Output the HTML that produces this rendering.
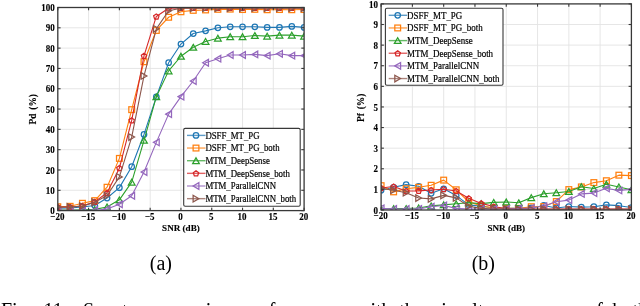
<!DOCTYPE html>
<html><head><meta charset="utf-8"><style>
html,body{margin:0;padding:0;background:#fff;width:640px;height:306px;overflow:hidden}
svg{display:block;filter:blur(0.3px)}
.tk{font-family:"Liberation Serif",serif;font-weight:bold;font-size:9.0px;fill:#000;stroke:#000;stroke-width:0.12px}
.ylab{font-family:"Liberation Serif",serif;font-weight:bold;font-size:9.3px;fill:#000;stroke:#000;stroke-width:0.12px;word-spacing:1.6px}
.lab{font-family:"Liberation Serif",serif;font-weight:bold;font-size:9.1px;fill:#000;stroke:#000;stroke-width:0.12px}
.lg{font-family:"Liberation Serif",serif;font-size:8.8px;fill:#000;stroke:#000;stroke-width:0.18px}
.cap{font-family:"Liberation Serif",serif;font-size:20px;fill:#000}
.fig{font-family:"Liberation Serif",serif;font-size:20px;fill:#000}
</style></head><body>
<svg width="640" height="306" viewBox="0 0 640 306">
<rect width="640" height="306" fill="#fff"/>
<line x1="88.59" y1="7.50" x2="88.59" y2="210.60" stroke="#e3e3e3" stroke-width="0.9"/>
<line x1="119.38" y1="7.50" x2="119.38" y2="210.60" stroke="#e3e3e3" stroke-width="0.9"/>
<line x1="150.16" y1="7.50" x2="150.16" y2="210.60" stroke="#e3e3e3" stroke-width="0.9"/>
<line x1="180.95" y1="7.50" x2="180.95" y2="210.60" stroke="#e3e3e3" stroke-width="0.9"/>
<line x1="211.74" y1="7.50" x2="211.74" y2="210.60" stroke="#e3e3e3" stroke-width="0.9"/>
<line x1="242.53" y1="7.50" x2="242.53" y2="210.60" stroke="#e3e3e3" stroke-width="0.9"/>
<line x1="273.31" y1="7.50" x2="273.31" y2="210.60" stroke="#e3e3e3" stroke-width="0.9"/>
<line x1="57.80" y1="190.29" x2="304.10" y2="190.29" stroke="#e3e3e3" stroke-width="0.9"/>
<line x1="57.80" y1="169.98" x2="304.10" y2="169.98" stroke="#e3e3e3" stroke-width="0.9"/>
<line x1="57.80" y1="149.67" x2="304.10" y2="149.67" stroke="#e3e3e3" stroke-width="0.9"/>
<line x1="57.80" y1="129.36" x2="304.10" y2="129.36" stroke="#e3e3e3" stroke-width="0.9"/>
<line x1="57.80" y1="109.05" x2="304.10" y2="109.05" stroke="#e3e3e3" stroke-width="0.9"/>
<line x1="57.80" y1="88.74" x2="304.10" y2="88.74" stroke="#e3e3e3" stroke-width="0.9"/>
<line x1="57.80" y1="68.43" x2="304.10" y2="68.43" stroke="#e3e3e3" stroke-width="0.9"/>
<line x1="57.80" y1="48.12" x2="304.10" y2="48.12" stroke="#e3e3e3" stroke-width="0.9"/>
<line x1="57.80" y1="27.81" x2="304.10" y2="27.81" stroke="#e3e3e3" stroke-width="0.9"/>
<clipPath id="c57"><rect x="57.80" y="7.50" width="246.30" height="203.10"/></clipPath><g clip-path="url(#c57)">
<polyline points="57.80,208.16 70.11,207.96 82.43,206.94 94.75,205.52 107.06,198.01 119.38,187.65 131.69,166.73 144.00,134.44 156.32,96.86 168.63,62.74 180.95,44.06 193.26,33.50 205.58,30.86 217.89,27.81 230.21,26.79 242.53,26.79 254.84,26.79 267.16,27.40 279.47,27.40 291.79,26.39 304.10,27.40" fill="none" stroke="#1f77b4" stroke-width="1.1" stroke-linejoin="round"/>
<circle cx="57.80" cy="208.16" r="2.75" fill="none" stroke="#1f77b4" stroke-width="1.25"/>
<circle cx="70.11" cy="207.96" r="2.75" fill="none" stroke="#1f77b4" stroke-width="1.25"/>
<circle cx="82.43" cy="206.94" r="2.75" fill="none" stroke="#1f77b4" stroke-width="1.25"/>
<circle cx="94.75" cy="205.52" r="2.75" fill="none" stroke="#1f77b4" stroke-width="1.25"/>
<circle cx="107.06" cy="198.01" r="2.75" fill="none" stroke="#1f77b4" stroke-width="1.25"/>
<circle cx="119.38" cy="187.65" r="2.75" fill="none" stroke="#1f77b4" stroke-width="1.25"/>
<circle cx="131.69" cy="166.73" r="2.75" fill="none" stroke="#1f77b4" stroke-width="1.25"/>
<circle cx="144.00" cy="134.44" r="2.75" fill="none" stroke="#1f77b4" stroke-width="1.25"/>
<circle cx="156.32" cy="96.86" r="2.75" fill="none" stroke="#1f77b4" stroke-width="1.25"/>
<circle cx="168.63" cy="62.74" r="2.75" fill="none" stroke="#1f77b4" stroke-width="1.25"/>
<circle cx="180.95" cy="44.06" r="2.75" fill="none" stroke="#1f77b4" stroke-width="1.25"/>
<circle cx="193.26" cy="33.50" r="2.75" fill="none" stroke="#1f77b4" stroke-width="1.25"/>
<circle cx="205.58" cy="30.86" r="2.75" fill="none" stroke="#1f77b4" stroke-width="1.25"/>
<circle cx="217.89" cy="27.81" r="2.75" fill="none" stroke="#1f77b4" stroke-width="1.25"/>
<circle cx="230.21" cy="26.79" r="2.75" fill="none" stroke="#1f77b4" stroke-width="1.25"/>
<circle cx="242.53" cy="26.79" r="2.75" fill="none" stroke="#1f77b4" stroke-width="1.25"/>
<circle cx="254.84" cy="26.79" r="2.75" fill="none" stroke="#1f77b4" stroke-width="1.25"/>
<circle cx="267.16" cy="27.40" r="2.75" fill="none" stroke="#1f77b4" stroke-width="1.25"/>
<circle cx="279.47" cy="27.40" r="2.75" fill="none" stroke="#1f77b4" stroke-width="1.25"/>
<circle cx="291.79" cy="26.39" r="2.75" fill="none" stroke="#1f77b4" stroke-width="1.25"/>
<circle cx="304.10" cy="27.40" r="2.75" fill="none" stroke="#1f77b4" stroke-width="1.25"/>
<polyline points="57.80,206.74 70.11,206.33 82.43,203.29 94.75,200.65 107.06,187.24 119.38,158.40 131.69,109.66 144.00,61.73 156.32,30.45 168.63,17.25 180.95,11.77 193.26,10.34 205.58,9.94 217.89,9.33 230.21,9.12 242.53,9.53 254.84,9.33 267.16,9.73 279.47,9.53 291.79,9.73 304.10,9.53" fill="none" stroke="#ff7f0e" stroke-width="1.1" stroke-linejoin="round"/>
<rect x="54.92" y="203.86" width="5.76" height="5.76" fill="none" stroke="#ff7f0e" stroke-width="1.25"/>
<rect x="67.23" y="203.45" width="5.76" height="5.76" fill="none" stroke="#ff7f0e" stroke-width="1.25"/>
<rect x="79.55" y="200.41" width="5.76" height="5.76" fill="none" stroke="#ff7f0e" stroke-width="1.25"/>
<rect x="91.87" y="197.77" width="5.76" height="5.76" fill="none" stroke="#ff7f0e" stroke-width="1.25"/>
<rect x="104.18" y="184.36" width="5.76" height="5.76" fill="none" stroke="#ff7f0e" stroke-width="1.25"/>
<rect x="116.50" y="155.52" width="5.76" height="5.76" fill="none" stroke="#ff7f0e" stroke-width="1.25"/>
<rect x="128.81" y="106.78" width="5.76" height="5.76" fill="none" stroke="#ff7f0e" stroke-width="1.25"/>
<rect x="141.12" y="58.85" width="5.76" height="5.76" fill="none" stroke="#ff7f0e" stroke-width="1.25"/>
<rect x="153.44" y="27.57" width="5.76" height="5.76" fill="none" stroke="#ff7f0e" stroke-width="1.25"/>
<rect x="165.75" y="14.37" width="5.76" height="5.76" fill="none" stroke="#ff7f0e" stroke-width="1.25"/>
<rect x="178.07" y="8.89" width="5.76" height="5.76" fill="none" stroke="#ff7f0e" stroke-width="1.25"/>
<rect x="190.38" y="7.46" width="5.76" height="5.76" fill="none" stroke="#ff7f0e" stroke-width="1.25"/>
<rect x="202.70" y="7.06" width="5.76" height="5.76" fill="none" stroke="#ff7f0e" stroke-width="1.25"/>
<rect x="215.01" y="6.45" width="5.76" height="5.76" fill="none" stroke="#ff7f0e" stroke-width="1.25"/>
<rect x="227.33" y="6.24" width="5.76" height="5.76" fill="none" stroke="#ff7f0e" stroke-width="1.25"/>
<rect x="239.65" y="6.65" width="5.76" height="5.76" fill="none" stroke="#ff7f0e" stroke-width="1.25"/>
<rect x="251.96" y="6.45" width="5.76" height="5.76" fill="none" stroke="#ff7f0e" stroke-width="1.25"/>
<rect x="264.28" y="6.85" width="5.76" height="5.76" fill="none" stroke="#ff7f0e" stroke-width="1.25"/>
<rect x="276.59" y="6.65" width="5.76" height="5.76" fill="none" stroke="#ff7f0e" stroke-width="1.25"/>
<rect x="288.91" y="6.85" width="5.76" height="5.76" fill="none" stroke="#ff7f0e" stroke-width="1.25"/>
<rect x="301.22" y="6.65" width="5.76" height="5.76" fill="none" stroke="#ff7f0e" stroke-width="1.25"/>
<polyline points="57.80,209.99 70.11,209.99 82.43,209.79 94.75,209.38 107.06,206.94 119.38,199.84 131.69,182.17 144.00,140.33 156.32,96.86 168.63,70.87 180.95,56.24 193.26,47.31 205.58,41.42 217.89,38.17 230.21,36.75 242.53,36.75 254.84,35.53 267.16,36.14 279.47,35.12 291.79,35.12 304.10,36.14" fill="none" stroke="#2ca02c" stroke-width="1.1" stroke-linejoin="round"/>
<polygon points="57.80,207.11 61.13,212.87 54.47,212.87" fill="none" stroke="#2ca02c" stroke-width="1.25"/>
<polygon points="70.11,207.11 73.44,212.87 66.79,212.87" fill="none" stroke="#2ca02c" stroke-width="1.25"/>
<polygon points="82.43,206.91 85.76,212.67 79.10,212.67" fill="none" stroke="#2ca02c" stroke-width="1.25"/>
<polygon points="94.75,206.50 98.07,212.26 91.42,212.26" fill="none" stroke="#2ca02c" stroke-width="1.25"/>
<polygon points="107.06,204.06 110.39,209.82 103.73,209.82" fill="none" stroke="#2ca02c" stroke-width="1.25"/>
<polygon points="119.38,196.96 122.70,202.72 116.05,202.72" fill="none" stroke="#2ca02c" stroke-width="1.25"/>
<polygon points="131.69,179.29 135.02,185.05 128.36,185.05" fill="none" stroke="#2ca02c" stroke-width="1.25"/>
<polygon points="144.00,137.45 147.33,143.21 140.68,143.21" fill="none" stroke="#2ca02c" stroke-width="1.25"/>
<polygon points="156.32,93.98 159.65,99.74 152.99,99.74" fill="none" stroke="#2ca02c" stroke-width="1.25"/>
<polygon points="168.63,67.99 171.96,73.75 165.31,73.75" fill="none" stroke="#2ca02c" stroke-width="1.25"/>
<polygon points="180.95,53.36 184.28,59.12 177.62,59.12" fill="none" stroke="#2ca02c" stroke-width="1.25"/>
<polygon points="193.26,44.43 196.59,50.19 189.94,50.19" fill="none" stroke="#2ca02c" stroke-width="1.25"/>
<polygon points="205.58,38.54 208.91,44.30 202.25,44.30" fill="none" stroke="#2ca02c" stroke-width="1.25"/>
<polygon points="217.89,35.29 221.22,41.05 214.57,41.05" fill="none" stroke="#2ca02c" stroke-width="1.25"/>
<polygon points="230.21,33.87 233.54,39.63 226.88,39.63" fill="none" stroke="#2ca02c" stroke-width="1.25"/>
<polygon points="242.53,33.87 245.85,39.63 239.20,39.63" fill="none" stroke="#2ca02c" stroke-width="1.25"/>
<polygon points="254.84,32.65 258.17,38.41 251.51,38.41" fill="none" stroke="#2ca02c" stroke-width="1.25"/>
<polygon points="267.16,33.26 270.48,39.02 263.83,39.02" fill="none" stroke="#2ca02c" stroke-width="1.25"/>
<polygon points="279.47,32.24 282.80,38.00 276.14,38.00" fill="none" stroke="#2ca02c" stroke-width="1.25"/>
<polygon points="291.79,32.24 295.11,38.00 288.46,38.00" fill="none" stroke="#2ca02c" stroke-width="1.25"/>
<polygon points="304.10,33.26 307.43,39.02 300.77,39.02" fill="none" stroke="#2ca02c" stroke-width="1.25"/>
<polyline points="57.80,206.94 70.11,206.94 82.43,205.93 94.75,201.87 107.06,192.73 119.38,168.15 131.69,120.42 144.00,55.84 156.32,16.44 168.63,8.31 180.95,7.91 193.26,7.91 205.58,7.91 217.89,7.91 230.21,7.91 242.53,7.91 254.84,7.91 267.16,7.91 279.47,7.91 291.79,7.91 304.10,7.91" fill="none" stroke="#d62728" stroke-width="1.1" stroke-linejoin="round"/>
<polygon points="57.80,204.41 60.48,206.36 59.46,209.50 56.14,209.50 55.12,206.36" fill="none" stroke="#d62728" stroke-width="1.25"/>
<polygon points="70.11,204.41 72.79,206.36 71.77,209.50 68.46,209.50 67.44,206.36" fill="none" stroke="#d62728" stroke-width="1.25"/>
<polygon points="82.43,203.39 85.11,205.34 84.09,208.49 80.77,208.49 79.75,205.34" fill="none" stroke="#d62728" stroke-width="1.25"/>
<polygon points="94.75,199.33 97.42,201.28 96.40,204.43 93.09,204.43 92.07,201.28" fill="none" stroke="#d62728" stroke-width="1.25"/>
<polygon points="107.06,190.19 109.74,192.14 108.72,195.29 105.40,195.29 104.38,192.14" fill="none" stroke="#d62728" stroke-width="1.25"/>
<polygon points="119.38,165.62 122.05,167.56 121.03,170.71 117.72,170.71 116.70,167.56" fill="none" stroke="#d62728" stroke-width="1.25"/>
<polygon points="131.69,117.89 134.37,119.84 133.35,122.98 130.03,122.98 129.01,119.84" fill="none" stroke="#d62728" stroke-width="1.25"/>
<polygon points="144.00,53.30 146.68,55.25 145.66,58.40 142.35,58.40 141.33,55.25" fill="none" stroke="#d62728" stroke-width="1.25"/>
<polygon points="156.32,13.90 159.00,15.85 157.98,19.00 154.66,19.00 153.64,15.85" fill="none" stroke="#d62728" stroke-width="1.25"/>
<polygon points="168.63,5.78 171.31,7.72 170.29,10.87 166.98,10.87 165.96,7.72" fill="none" stroke="#d62728" stroke-width="1.25"/>
<polygon points="180.95,5.37 183.63,7.32 182.61,10.47 179.29,10.47 178.27,7.32" fill="none" stroke="#d62728" stroke-width="1.25"/>
<polygon points="193.26,5.37 195.94,7.32 194.92,10.47 191.61,10.47 190.59,7.32" fill="none" stroke="#d62728" stroke-width="1.25"/>
<polygon points="205.58,5.37 208.26,7.32 207.24,10.47 203.92,10.47 202.90,7.32" fill="none" stroke="#d62728" stroke-width="1.25"/>
<polygon points="217.89,5.37 220.57,7.32 219.55,10.47 216.24,10.47 215.22,7.32" fill="none" stroke="#d62728" stroke-width="1.25"/>
<polygon points="230.21,5.37 232.89,7.32 231.87,10.47 228.55,10.47 227.53,7.32" fill="none" stroke="#d62728" stroke-width="1.25"/>
<polygon points="242.53,5.37 245.20,7.32 244.18,10.47 240.87,10.47 239.85,7.32" fill="none" stroke="#d62728" stroke-width="1.25"/>
<polygon points="254.84,5.37 257.52,7.32 256.50,10.47 253.18,10.47 252.16,7.32" fill="none" stroke="#d62728" stroke-width="1.25"/>
<polygon points="267.16,5.37 269.83,7.32 268.81,10.47 265.50,10.47 264.48,7.32" fill="none" stroke="#d62728" stroke-width="1.25"/>
<polygon points="279.47,5.37 282.15,7.32 281.13,10.47 277.81,10.47 276.79,7.32" fill="none" stroke="#d62728" stroke-width="1.25"/>
<polygon points="291.79,5.37 294.46,7.32 293.44,10.47 290.13,10.47 289.11,7.32" fill="none" stroke="#d62728" stroke-width="1.25"/>
<polygon points="304.10,5.37 306.78,7.32 305.76,10.47 302.44,10.47 301.42,7.32" fill="none" stroke="#d62728" stroke-width="1.25"/>
<polyline points="57.80,210.40 70.11,210.40 82.43,210.40 94.75,210.19 107.06,208.98 119.38,204.30 131.69,195.77 144.00,172.01 156.32,142.36 168.63,114.13 180.95,96.66 193.26,81.02 205.58,62.74 217.89,58.68 230.21,55.03 242.53,55.03 254.84,54.42 267.16,55.63 279.47,53.81 291.79,55.63 304.10,55.63" fill="none" stroke="#9467bd" stroke-width="1.1" stroke-linejoin="round"/>
<polygon points="54.92,210.40 60.68,207.07 60.68,213.72" fill="none" stroke="#9467bd" stroke-width="1.25"/>
<polygon points="67.23,210.40 72.99,207.07 72.99,213.72" fill="none" stroke="#9467bd" stroke-width="1.25"/>
<polygon points="79.55,210.40 85.31,207.07 85.31,213.72" fill="none" stroke="#9467bd" stroke-width="1.25"/>
<polygon points="91.86,210.19 97.62,206.87 97.62,213.52" fill="none" stroke="#9467bd" stroke-width="1.25"/>
<polygon points="104.18,208.98 109.94,205.65 109.94,212.30" fill="none" stroke="#9467bd" stroke-width="1.25"/>
<polygon points="116.49,204.30 122.25,200.98 122.25,207.63" fill="none" stroke="#9467bd" stroke-width="1.25"/>
<polygon points="128.81,195.77 134.57,192.45 134.57,199.10" fill="none" stroke="#9467bd" stroke-width="1.25"/>
<polygon points="141.12,172.01 146.88,168.69 146.88,175.34" fill="none" stroke="#9467bd" stroke-width="1.25"/>
<polygon points="153.44,142.36 159.20,139.03 159.20,145.68" fill="none" stroke="#9467bd" stroke-width="1.25"/>
<polygon points="165.75,114.13 171.51,110.80 171.51,117.45" fill="none" stroke="#9467bd" stroke-width="1.25"/>
<polygon points="178.07,96.66 183.83,93.34 183.83,99.99" fill="none" stroke="#9467bd" stroke-width="1.25"/>
<polygon points="190.38,81.02 196.14,77.70 196.14,84.35" fill="none" stroke="#9467bd" stroke-width="1.25"/>
<polygon points="202.70,62.74 208.46,59.42 208.46,66.07" fill="none" stroke="#9467bd" stroke-width="1.25"/>
<polygon points="215.01,58.68 220.77,55.36 220.77,62.01" fill="none" stroke="#9467bd" stroke-width="1.25"/>
<polygon points="227.33,55.03 233.09,51.70 233.09,58.35" fill="none" stroke="#9467bd" stroke-width="1.25"/>
<polygon points="239.65,55.03 245.41,51.70 245.41,58.35" fill="none" stroke="#9467bd" stroke-width="1.25"/>
<polygon points="251.96,54.42 257.72,51.09 257.72,57.74" fill="none" stroke="#9467bd" stroke-width="1.25"/>
<polygon points="264.28,55.63 270.04,52.31 270.04,58.96" fill="none" stroke="#9467bd" stroke-width="1.25"/>
<polygon points="276.59,53.81 282.35,50.48 282.35,57.13" fill="none" stroke="#9467bd" stroke-width="1.25"/>
<polygon points="288.91,55.63 294.67,52.31 294.67,58.96" fill="none" stroke="#9467bd" stroke-width="1.25"/>
<polygon points="301.22,55.63 306.98,52.31 306.98,58.96" fill="none" stroke="#9467bd" stroke-width="1.25"/>
<polyline points="57.80,207.15 70.11,206.94 82.43,206.13 94.75,202.27 107.06,195.57 119.38,176.89 131.69,137.08 144.00,75.94 156.32,28.83 168.63,10.75 180.95,8.31 193.26,8.11 205.58,8.11 217.89,8.11 230.21,8.11 242.53,8.11 254.84,8.11 267.16,8.11 279.47,8.11 291.79,8.11 304.10,8.11" fill="none" stroke="#8c564b" stroke-width="1.1" stroke-linejoin="round"/>
<polygon points="60.68,207.15 54.92,210.47 54.92,203.82" fill="none" stroke="#8c564b" stroke-width="1.25"/>
<polygon points="73.00,206.94 67.23,210.27 67.23,203.62" fill="none" stroke="#8c564b" stroke-width="1.25"/>
<polygon points="85.31,206.13 79.55,209.46 79.55,202.81" fill="none" stroke="#8c564b" stroke-width="1.25"/>
<polygon points="97.63,202.27 91.87,205.60 91.87,198.95" fill="none" stroke="#8c564b" stroke-width="1.25"/>
<polygon points="109.94,195.57 104.18,198.90 104.18,192.25" fill="none" stroke="#8c564b" stroke-width="1.25"/>
<polygon points="122.26,176.89 116.50,180.21 116.50,173.56" fill="none" stroke="#8c564b" stroke-width="1.25"/>
<polygon points="134.57,137.08 128.81,140.40 128.81,133.75" fill="none" stroke="#8c564b" stroke-width="1.25"/>
<polygon points="146.88,75.94 141.12,79.27 141.12,72.62" fill="none" stroke="#8c564b" stroke-width="1.25"/>
<polygon points="159.20,28.83 153.44,32.15 153.44,25.50" fill="none" stroke="#8c564b" stroke-width="1.25"/>
<polygon points="171.51,10.75 165.75,14.08 165.75,7.42" fill="none" stroke="#8c564b" stroke-width="1.25"/>
<polygon points="183.83,8.31 178.07,11.64 178.07,4.99" fill="none" stroke="#8c564b" stroke-width="1.25"/>
<polygon points="196.14,8.11 190.38,11.43 190.38,4.78" fill="none" stroke="#8c564b" stroke-width="1.25"/>
<polygon points="208.46,8.11 202.70,11.43 202.70,4.78" fill="none" stroke="#8c564b" stroke-width="1.25"/>
<polygon points="220.77,8.11 215.01,11.43 215.01,4.78" fill="none" stroke="#8c564b" stroke-width="1.25"/>
<polygon points="233.09,8.11 227.33,11.43 227.33,4.78" fill="none" stroke="#8c564b" stroke-width="1.25"/>
<polygon points="245.41,8.11 239.65,11.43 239.65,4.78" fill="none" stroke="#8c564b" stroke-width="1.25"/>
<polygon points="257.72,8.11 251.96,11.43 251.96,4.78" fill="none" stroke="#8c564b" stroke-width="1.25"/>
<polygon points="270.04,8.11 264.28,11.43 264.28,4.78" fill="none" stroke="#8c564b" stroke-width="1.25"/>
<polygon points="282.35,8.11 276.59,11.43 276.59,4.78" fill="none" stroke="#8c564b" stroke-width="1.25"/>
<polygon points="294.67,8.11 288.91,11.43 288.91,4.78" fill="none" stroke="#8c564b" stroke-width="1.25"/>
<polygon points="306.98,8.11 301.22,11.43 301.22,4.78" fill="none" stroke="#8c564b" stroke-width="1.25"/>
</g>
<rect x="57.80" y="7.50" width="246.30" height="203.10" fill="none" stroke="#383838" stroke-width="1.3"/>
<line x1="57.80" y1="210.60" x2="57.80" y2="207.80" stroke="#383838" stroke-width="1.1"/>
<line x1="57.80" y1="7.50" x2="57.80" y2="10.30" stroke="#383838" stroke-width="1.1"/>
<text x="57.40" y="0" class="tk" text-anchor="middle" transform="translate(0 220.00) scale(1 1.07)">−20</text>
<line x1="88.59" y1="210.60" x2="88.59" y2="207.80" stroke="#383838" stroke-width="1.1"/>
<line x1="88.59" y1="7.50" x2="88.59" y2="10.30" stroke="#383838" stroke-width="1.1"/>
<text x="88.19" y="0" class="tk" text-anchor="middle" transform="translate(0 220.00) scale(1 1.07)">−15</text>
<line x1="119.38" y1="210.60" x2="119.38" y2="207.80" stroke="#383838" stroke-width="1.1"/>
<line x1="119.38" y1="7.50" x2="119.38" y2="10.30" stroke="#383838" stroke-width="1.1"/>
<text x="118.97" y="0" class="tk" text-anchor="middle" transform="translate(0 220.00) scale(1 1.07)">−10</text>
<line x1="150.16" y1="210.60" x2="150.16" y2="207.80" stroke="#383838" stroke-width="1.1"/>
<line x1="150.16" y1="7.50" x2="150.16" y2="10.30" stroke="#383838" stroke-width="1.1"/>
<text x="149.76" y="0" class="tk" text-anchor="middle" transform="translate(0 220.00) scale(1 1.07)">−5</text>
<line x1="180.95" y1="210.60" x2="180.95" y2="207.80" stroke="#383838" stroke-width="1.1"/>
<line x1="180.95" y1="7.50" x2="180.95" y2="10.30" stroke="#383838" stroke-width="1.1"/>
<text x="180.55" y="0" class="tk" text-anchor="middle" transform="translate(0 220.00) scale(1 1.07)">0</text>
<line x1="211.74" y1="210.60" x2="211.74" y2="207.80" stroke="#383838" stroke-width="1.1"/>
<line x1="211.74" y1="7.50" x2="211.74" y2="10.30" stroke="#383838" stroke-width="1.1"/>
<text x="211.34" y="0" class="tk" text-anchor="middle" transform="translate(0 220.00) scale(1 1.07)">5</text>
<line x1="242.53" y1="210.60" x2="242.53" y2="207.80" stroke="#383838" stroke-width="1.1"/>
<line x1="242.53" y1="7.50" x2="242.53" y2="10.30" stroke="#383838" stroke-width="1.1"/>
<text x="242.13" y="0" class="tk" text-anchor="middle" transform="translate(0 220.00) scale(1 1.07)">10</text>
<line x1="273.31" y1="210.60" x2="273.31" y2="207.80" stroke="#383838" stroke-width="1.1"/>
<line x1="273.31" y1="7.50" x2="273.31" y2="10.30" stroke="#383838" stroke-width="1.1"/>
<text x="272.91" y="0" class="tk" text-anchor="middle" transform="translate(0 220.00) scale(1 1.07)">15</text>
<line x1="304.10" y1="210.60" x2="304.10" y2="207.80" stroke="#383838" stroke-width="1.1"/>
<line x1="304.10" y1="7.50" x2="304.10" y2="10.30" stroke="#383838" stroke-width="1.1"/>
<text x="303.70" y="0" class="tk" text-anchor="middle" transform="translate(0 220.00) scale(1 1.07)">20</text>
<line x1="57.80" y1="210.60" x2="60.60" y2="210.60" stroke="#383838" stroke-width="1.1"/>
<line x1="304.10" y1="210.60" x2="301.30" y2="210.60" stroke="#383838" stroke-width="1.1"/>
<text x="54.80" y="0" class="tk" text-anchor="end" transform="translate(0 214.20) scale(1 1.07)">0</text>
<line x1="57.80" y1="190.29" x2="60.60" y2="190.29" stroke="#383838" stroke-width="1.1"/>
<line x1="304.10" y1="190.29" x2="301.30" y2="190.29" stroke="#383838" stroke-width="1.1"/>
<text x="54.80" y="0" class="tk" text-anchor="end" transform="translate(0 193.89) scale(1 1.07)">10</text>
<line x1="57.80" y1="169.98" x2="60.60" y2="169.98" stroke="#383838" stroke-width="1.1"/>
<line x1="304.10" y1="169.98" x2="301.30" y2="169.98" stroke="#383838" stroke-width="1.1"/>
<text x="54.80" y="0" class="tk" text-anchor="end" transform="translate(0 173.58) scale(1 1.07)">20</text>
<line x1="57.80" y1="149.67" x2="60.60" y2="149.67" stroke="#383838" stroke-width="1.1"/>
<line x1="304.10" y1="149.67" x2="301.30" y2="149.67" stroke="#383838" stroke-width="1.1"/>
<text x="54.80" y="0" class="tk" text-anchor="end" transform="translate(0 153.27) scale(1 1.07)">30</text>
<line x1="57.80" y1="129.36" x2="60.60" y2="129.36" stroke="#383838" stroke-width="1.1"/>
<line x1="304.10" y1="129.36" x2="301.30" y2="129.36" stroke="#383838" stroke-width="1.1"/>
<text x="54.80" y="0" class="tk" text-anchor="end" transform="translate(0 132.96) scale(1 1.07)">40</text>
<line x1="57.80" y1="109.05" x2="60.60" y2="109.05" stroke="#383838" stroke-width="1.1"/>
<line x1="304.10" y1="109.05" x2="301.30" y2="109.05" stroke="#383838" stroke-width="1.1"/>
<text x="54.80" y="0" class="tk" text-anchor="end" transform="translate(0 112.65) scale(1 1.07)">50</text>
<line x1="57.80" y1="88.74" x2="60.60" y2="88.74" stroke="#383838" stroke-width="1.1"/>
<line x1="304.10" y1="88.74" x2="301.30" y2="88.74" stroke="#383838" stroke-width="1.1"/>
<text x="54.80" y="0" class="tk" text-anchor="end" transform="translate(0 92.34) scale(1 1.07)">60</text>
<line x1="57.80" y1="68.43" x2="60.60" y2="68.43" stroke="#383838" stroke-width="1.1"/>
<line x1="304.10" y1="68.43" x2="301.30" y2="68.43" stroke="#383838" stroke-width="1.1"/>
<text x="54.80" y="0" class="tk" text-anchor="end" transform="translate(0 72.03) scale(1 1.07)">70</text>
<line x1="57.80" y1="48.12" x2="60.60" y2="48.12" stroke="#383838" stroke-width="1.1"/>
<line x1="304.10" y1="48.12" x2="301.30" y2="48.12" stroke="#383838" stroke-width="1.1"/>
<text x="54.80" y="0" class="tk" text-anchor="end" transform="translate(0 51.72) scale(1 1.07)">80</text>
<line x1="57.80" y1="27.81" x2="60.60" y2="27.81" stroke="#383838" stroke-width="1.1"/>
<line x1="304.10" y1="27.81" x2="301.30" y2="27.81" stroke="#383838" stroke-width="1.1"/>
<text x="54.80" y="0" class="tk" text-anchor="end" transform="translate(0 31.41) scale(1 1.07)">90</text>
<line x1="57.80" y1="7.50" x2="60.60" y2="7.50" stroke="#383838" stroke-width="1.1"/>
<line x1="304.10" y1="7.50" x2="301.30" y2="7.50" stroke="#383838" stroke-width="1.1"/>
<text x="54.80" y="0" class="tk" text-anchor="end" transform="translate(0 11.10) scale(1 1.07)">100</text>
<text x="36.00" y="109.35" class="ylab" text-anchor="middle" transform="rotate(-90 36.00 109.35)">Pd (%)</text>
<text x="180.95" y="230.90" class="lab" text-anchor="middle">SNR (dB)</text>
<rect x="183.70" y="128.40" width="116.50" height="77.90" rx="1.5" fill="#fff" stroke="#383838" stroke-width="1.1"/>
<line x1="187.00" y1="135.40" x2="205.50" y2="135.40" stroke="#1f77b4" stroke-width="1.4" opacity="0.72"/>
<circle cx="196.00" cy="135.40" r="2.75" fill="none" stroke="#1f77b4" stroke-width="1.25"/>
<text x="205.40" y="0" class="lg" style="font-size:8.8px" transform="translate(0 138.70) scale(1 1.09)">DSFF_MT_PG</text>
<line x1="187.00" y1="148.05" x2="205.50" y2="148.05" stroke="#ff7f0e" stroke-width="1.4" opacity="0.72"/>
<rect x="193.12" y="145.17" width="5.76" height="5.76" fill="none" stroke="#ff7f0e" stroke-width="1.25"/>
<text x="205.40" y="0" class="lg" style="font-size:8.8px" transform="translate(0 151.35) scale(1 1.09)">DSFF_MT_PG_both</text>
<line x1="187.00" y1="160.70" x2="205.50" y2="160.70" stroke="#2ca02c" stroke-width="1.4" opacity="0.72"/>
<polygon points="196.00,157.82 199.33,163.58 192.67,163.58" fill="none" stroke="#2ca02c" stroke-width="1.25"/>
<text x="205.40" y="0" class="lg" style="font-size:8.8px" transform="translate(0 164.00) scale(1 1.09)">MTM_DeepSense</text>
<line x1="187.00" y1="173.35" x2="205.50" y2="173.35" stroke="#d62728" stroke-width="1.4" opacity="0.72"/>
<polygon points="196.00,170.82 198.68,172.76 197.66,175.91 194.34,175.91 193.32,172.76" fill="none" stroke="#d62728" stroke-width="1.25"/>
<text x="205.40" y="0" class="lg" style="font-size:8.8px" transform="translate(0 176.65) scale(1 1.09)">MTM_DeepSense_both</text>
<line x1="187.00" y1="186.00" x2="205.50" y2="186.00" stroke="#9467bd" stroke-width="1.4" opacity="0.72"/>
<polygon points="193.12,186.00 198.88,182.67 198.88,189.33" fill="none" stroke="#9467bd" stroke-width="1.25"/>
<text x="205.40" y="0" class="lg" style="font-size:8.8px" transform="translate(0 189.30) scale(1 1.09)">MTM_ParallelCNN</text>
<line x1="187.00" y1="198.65" x2="205.50" y2="198.65" stroke="#8c564b" stroke-width="1.4" opacity="0.72"/>
<polygon points="198.88,198.65 193.12,201.98 193.12,195.32" fill="none" stroke="#8c564b" stroke-width="1.25"/>
<text x="205.40" y="0" class="lg" style="font-size:8.8px" transform="translate(0 201.95) scale(1 1.09)">MTM_ParallelCNN_both</text>
<line x1="412.39" y1="3.90" x2="412.39" y2="210.00" stroke="#e3e3e3" stroke-width="0.9"/>
<line x1="443.68" y1="3.90" x2="443.68" y2="210.00" stroke="#e3e3e3" stroke-width="0.9"/>
<line x1="474.96" y1="3.90" x2="474.96" y2="210.00" stroke="#e3e3e3" stroke-width="0.9"/>
<line x1="506.25" y1="3.90" x2="506.25" y2="210.00" stroke="#e3e3e3" stroke-width="0.9"/>
<line x1="537.54" y1="3.90" x2="537.54" y2="210.00" stroke="#e3e3e3" stroke-width="0.9"/>
<line x1="568.83" y1="3.90" x2="568.83" y2="210.00" stroke="#e3e3e3" stroke-width="0.9"/>
<line x1="600.11" y1="3.90" x2="600.11" y2="210.00" stroke="#e3e3e3" stroke-width="0.9"/>
<line x1="381.10" y1="189.39" x2="631.40" y2="189.39" stroke="#e3e3e3" stroke-width="0.9"/>
<line x1="381.10" y1="168.78" x2="631.40" y2="168.78" stroke="#e3e3e3" stroke-width="0.9"/>
<line x1="381.10" y1="148.17" x2="631.40" y2="148.17" stroke="#e3e3e3" stroke-width="0.9"/>
<line x1="381.10" y1="127.56" x2="631.40" y2="127.56" stroke="#e3e3e3" stroke-width="0.9"/>
<line x1="381.10" y1="106.95" x2="631.40" y2="106.95" stroke="#e3e3e3" stroke-width="0.9"/>
<line x1="381.10" y1="86.34" x2="631.40" y2="86.34" stroke="#e3e3e3" stroke-width="0.9"/>
<line x1="381.10" y1="65.73" x2="631.40" y2="65.73" stroke="#e3e3e3" stroke-width="0.9"/>
<line x1="381.10" y1="45.12" x2="631.40" y2="45.12" stroke="#e3e3e3" stroke-width="0.9"/>
<line x1="381.10" y1="24.51" x2="631.40" y2="24.51" stroke="#e3e3e3" stroke-width="0.9"/>
<clipPath id="c381"><rect x="381.10" y="3.90" width="250.30" height="206.10"/></clipPath><g clip-path="url(#c381)">
<polyline points="381.10,190.21 393.62,187.33 406.13,184.65 418.65,186.30 431.16,193.31 443.68,188.77 456.19,195.57 468.70,204.85 481.22,206.29 493.74,207.94 506.25,208.35 518.76,208.35 531.28,207.94 543.79,205.47 556.31,207.94 568.83,206.50 581.34,207.11 593.86,206.70 606.37,204.85 618.88,205.67 631.40,207.53" fill="none" stroke="#1f77b4" stroke-width="1.1" stroke-linejoin="round"/>
<circle cx="381.10" cy="190.21" r="2.75" fill="none" stroke="#1f77b4" stroke-width="1.25"/>
<circle cx="393.62" cy="187.33" r="2.75" fill="none" stroke="#1f77b4" stroke-width="1.25"/>
<circle cx="406.13" cy="184.65" r="2.75" fill="none" stroke="#1f77b4" stroke-width="1.25"/>
<circle cx="418.65" cy="186.30" r="2.75" fill="none" stroke="#1f77b4" stroke-width="1.25"/>
<circle cx="431.16" cy="193.31" r="2.75" fill="none" stroke="#1f77b4" stroke-width="1.25"/>
<circle cx="443.68" cy="188.77" r="2.75" fill="none" stroke="#1f77b4" stroke-width="1.25"/>
<circle cx="456.19" cy="195.57" r="2.75" fill="none" stroke="#1f77b4" stroke-width="1.25"/>
<circle cx="468.70" cy="204.85" r="2.75" fill="none" stroke="#1f77b4" stroke-width="1.25"/>
<circle cx="481.22" cy="206.29" r="2.75" fill="none" stroke="#1f77b4" stroke-width="1.25"/>
<circle cx="493.74" cy="207.94" r="2.75" fill="none" stroke="#1f77b4" stroke-width="1.25"/>
<circle cx="506.25" cy="208.35" r="2.75" fill="none" stroke="#1f77b4" stroke-width="1.25"/>
<circle cx="518.76" cy="208.35" r="2.75" fill="none" stroke="#1f77b4" stroke-width="1.25"/>
<circle cx="531.28" cy="207.94" r="2.75" fill="none" stroke="#1f77b4" stroke-width="1.25"/>
<circle cx="543.79" cy="205.47" r="2.75" fill="none" stroke="#1f77b4" stroke-width="1.25"/>
<circle cx="556.31" cy="207.94" r="2.75" fill="none" stroke="#1f77b4" stroke-width="1.25"/>
<circle cx="568.83" cy="206.50" r="2.75" fill="none" stroke="#1f77b4" stroke-width="1.25"/>
<circle cx="581.34" cy="207.11" r="2.75" fill="none" stroke="#1f77b4" stroke-width="1.25"/>
<circle cx="593.86" cy="206.70" r="2.75" fill="none" stroke="#1f77b4" stroke-width="1.25"/>
<circle cx="606.37" cy="204.85" r="2.75" fill="none" stroke="#1f77b4" stroke-width="1.25"/>
<circle cx="618.88" cy="205.67" r="2.75" fill="none" stroke="#1f77b4" stroke-width="1.25"/>
<circle cx="631.40" cy="207.53" r="2.75" fill="none" stroke="#1f77b4" stroke-width="1.25"/>
<polyline points="381.10,185.68 393.62,191.86 406.13,188.77 418.65,187.33 431.16,185.27 443.68,180.12 456.19,189.80 468.70,201.76 481.22,205.88 493.74,207.94 506.25,208.35 518.76,208.35 531.28,206.70 543.79,206.50 556.31,201.55 568.83,189.60 581.34,186.92 593.86,182.59 606.37,180.73 618.88,175.17 631.40,175.58" fill="none" stroke="#ff7f0e" stroke-width="1.1" stroke-linejoin="round"/>
<rect x="378.22" y="182.80" width="5.76" height="5.76" fill="none" stroke="#ff7f0e" stroke-width="1.25"/>
<rect x="390.74" y="188.98" width="5.76" height="5.76" fill="none" stroke="#ff7f0e" stroke-width="1.25"/>
<rect x="403.25" y="185.89" width="5.76" height="5.76" fill="none" stroke="#ff7f0e" stroke-width="1.25"/>
<rect x="415.77" y="184.45" width="5.76" height="5.76" fill="none" stroke="#ff7f0e" stroke-width="1.25"/>
<rect x="428.28" y="182.39" width="5.76" height="5.76" fill="none" stroke="#ff7f0e" stroke-width="1.25"/>
<rect x="440.80" y="177.24" width="5.76" height="5.76" fill="none" stroke="#ff7f0e" stroke-width="1.25"/>
<rect x="453.31" y="186.92" width="5.76" height="5.76" fill="none" stroke="#ff7f0e" stroke-width="1.25"/>
<rect x="465.82" y="198.88" width="5.76" height="5.76" fill="none" stroke="#ff7f0e" stroke-width="1.25"/>
<rect x="478.34" y="203.00" width="5.76" height="5.76" fill="none" stroke="#ff7f0e" stroke-width="1.25"/>
<rect x="490.86" y="205.06" width="5.76" height="5.76" fill="none" stroke="#ff7f0e" stroke-width="1.25"/>
<rect x="503.37" y="205.47" width="5.76" height="5.76" fill="none" stroke="#ff7f0e" stroke-width="1.25"/>
<rect x="515.88" y="205.47" width="5.76" height="5.76" fill="none" stroke="#ff7f0e" stroke-width="1.25"/>
<rect x="528.40" y="203.82" width="5.76" height="5.76" fill="none" stroke="#ff7f0e" stroke-width="1.25"/>
<rect x="540.91" y="203.62" width="5.76" height="5.76" fill="none" stroke="#ff7f0e" stroke-width="1.25"/>
<rect x="553.43" y="198.67" width="5.76" height="5.76" fill="none" stroke="#ff7f0e" stroke-width="1.25"/>
<rect x="565.95" y="186.72" width="5.76" height="5.76" fill="none" stroke="#ff7f0e" stroke-width="1.25"/>
<rect x="578.46" y="184.04" width="5.76" height="5.76" fill="none" stroke="#ff7f0e" stroke-width="1.25"/>
<rect x="590.98" y="179.71" width="5.76" height="5.76" fill="none" stroke="#ff7f0e" stroke-width="1.25"/>
<rect x="603.49" y="177.85" width="5.76" height="5.76" fill="none" stroke="#ff7f0e" stroke-width="1.25"/>
<rect x="616.00" y="172.29" width="5.76" height="5.76" fill="none" stroke="#ff7f0e" stroke-width="1.25"/>
<rect x="628.52" y="172.70" width="5.76" height="5.76" fill="none" stroke="#ff7f0e" stroke-width="1.25"/>
<polyline points="381.10,208.97 393.62,208.56 406.13,208.56 418.65,207.94 431.16,205.88 443.68,204.85 456.19,203.82 468.70,202.79 481.22,203.61 493.74,202.37 506.25,201.96 518.76,202.79 531.28,197.63 543.79,193.72 556.31,192.69 568.83,191.45 581.34,186.71 593.86,188.57 606.37,184.24 618.88,186.92 631.40,189.80" fill="none" stroke="#2ca02c" stroke-width="1.1" stroke-linejoin="round"/>
<polygon points="381.10,206.09 384.43,211.85 377.77,211.85" fill="none" stroke="#2ca02c" stroke-width="1.25"/>
<polygon points="393.62,205.68 396.94,211.44 390.29,211.44" fill="none" stroke="#2ca02c" stroke-width="1.25"/>
<polygon points="406.13,205.68 409.46,211.44 402.80,211.44" fill="none" stroke="#2ca02c" stroke-width="1.25"/>
<polygon points="418.65,205.06 421.97,210.82 415.32,210.82" fill="none" stroke="#2ca02c" stroke-width="1.25"/>
<polygon points="431.16,203.00 434.49,208.76 427.83,208.76" fill="none" stroke="#2ca02c" stroke-width="1.25"/>
<polygon points="443.68,201.97 447.00,207.73 440.35,207.73" fill="none" stroke="#2ca02c" stroke-width="1.25"/>
<polygon points="456.19,200.94 459.52,206.70 452.86,206.70" fill="none" stroke="#2ca02c" stroke-width="1.25"/>
<polygon points="468.70,199.91 472.03,205.67 465.38,205.67" fill="none" stroke="#2ca02c" stroke-width="1.25"/>
<polygon points="481.22,200.73 484.55,206.49 477.89,206.49" fill="none" stroke="#2ca02c" stroke-width="1.25"/>
<polygon points="493.74,199.49 497.06,205.25 490.41,205.25" fill="none" stroke="#2ca02c" stroke-width="1.25"/>
<polygon points="506.25,199.08 509.58,204.84 502.92,204.84" fill="none" stroke="#2ca02c" stroke-width="1.25"/>
<polygon points="518.76,199.91 522.09,205.67 515.44,205.67" fill="none" stroke="#2ca02c" stroke-width="1.25"/>
<polygon points="531.28,194.75 534.61,200.51 527.95,200.51" fill="none" stroke="#2ca02c" stroke-width="1.25"/>
<polygon points="543.79,190.84 547.12,196.60 540.47,196.60" fill="none" stroke="#2ca02c" stroke-width="1.25"/>
<polygon points="556.31,189.81 559.64,195.57 552.98,195.57" fill="none" stroke="#2ca02c" stroke-width="1.25"/>
<polygon points="568.83,188.57 572.15,194.33 565.50,194.33" fill="none" stroke="#2ca02c" stroke-width="1.25"/>
<polygon points="581.34,183.83 584.67,189.59 578.01,189.59" fill="none" stroke="#2ca02c" stroke-width="1.25"/>
<polygon points="593.86,185.69 597.18,191.45 590.53,191.45" fill="none" stroke="#2ca02c" stroke-width="1.25"/>
<polygon points="606.37,181.36 609.70,187.12 603.04,187.12" fill="none" stroke="#2ca02c" stroke-width="1.25"/>
<polygon points="618.88,184.04 622.21,189.80 615.56,189.80" fill="none" stroke="#2ca02c" stroke-width="1.25"/>
<polygon points="631.40,186.92 634.73,192.68 628.07,192.68" fill="none" stroke="#2ca02c" stroke-width="1.25"/>
<polyline points="381.10,187.95 393.62,186.50 406.13,191.04 418.65,190.83 431.16,190.01 443.68,189.18 456.19,191.04 468.70,198.25 481.22,203.40 493.74,206.50 506.25,208.76 518.76,208.97 531.28,208.97 543.79,208.97 556.31,208.97 568.83,208.97 581.34,208.97 593.86,208.97 606.37,208.97 618.88,208.97 631.40,208.97" fill="none" stroke="#d62728" stroke-width="1.1" stroke-linejoin="round"/>
<polygon points="381.10,185.41 383.78,187.36 382.76,190.51 379.44,190.51 378.42,187.36" fill="none" stroke="#d62728" stroke-width="1.25"/>
<polygon points="393.62,183.97 396.29,185.92 395.27,189.06 391.96,189.06 390.94,185.92" fill="none" stroke="#d62728" stroke-width="1.25"/>
<polygon points="406.13,188.50 408.81,190.45 407.79,193.60 404.47,193.60 403.45,190.45" fill="none" stroke="#d62728" stroke-width="1.25"/>
<polygon points="418.65,188.30 421.32,190.24 420.30,193.39 416.99,193.39 415.97,190.24" fill="none" stroke="#d62728" stroke-width="1.25"/>
<polygon points="431.16,187.47 433.84,189.42 432.82,192.57 429.50,192.57 428.48,189.42" fill="none" stroke="#d62728" stroke-width="1.25"/>
<polygon points="443.68,186.65 446.35,188.60 445.33,191.74 442.02,191.74 441.00,188.60" fill="none" stroke="#d62728" stroke-width="1.25"/>
<polygon points="456.19,188.50 458.87,190.45 457.85,193.60 454.53,193.60 453.51,190.45" fill="none" stroke="#d62728" stroke-width="1.25"/>
<polygon points="468.70,195.72 471.38,197.66 470.36,200.81 467.05,200.81 466.03,197.66" fill="none" stroke="#d62728" stroke-width="1.25"/>
<polygon points="481.22,200.87 483.90,202.82 482.88,205.96 479.56,205.96 478.54,202.82" fill="none" stroke="#d62728" stroke-width="1.25"/>
<polygon points="493.74,203.96 496.41,205.91 495.39,209.06 492.08,209.06 491.06,205.91" fill="none" stroke="#d62728" stroke-width="1.25"/>
<polygon points="506.25,206.23 508.93,208.17 507.91,211.32 504.59,211.32 503.57,208.17" fill="none" stroke="#d62728" stroke-width="1.25"/>
<polygon points="518.76,206.44 521.44,208.38 520.42,211.53 517.11,211.53 516.09,208.38" fill="none" stroke="#d62728" stroke-width="1.25"/>
<polygon points="531.28,206.44 533.96,208.38 532.94,211.53 529.62,211.53 528.60,208.38" fill="none" stroke="#d62728" stroke-width="1.25"/>
<polygon points="543.79,206.44 546.47,208.38 545.45,211.53 542.14,211.53 541.12,208.38" fill="none" stroke="#d62728" stroke-width="1.25"/>
<polygon points="556.31,206.44 558.99,208.38 557.97,211.53 554.65,211.53 553.63,208.38" fill="none" stroke="#d62728" stroke-width="1.25"/>
<polygon points="568.83,206.44 571.50,208.38 570.48,211.53 567.17,211.53 566.15,208.38" fill="none" stroke="#d62728" stroke-width="1.25"/>
<polygon points="581.34,206.44 584.02,208.38 583.00,211.53 579.68,211.53 578.66,208.38" fill="none" stroke="#d62728" stroke-width="1.25"/>
<polygon points="593.86,206.44 596.53,208.38 595.51,211.53 592.20,211.53 591.18,208.38" fill="none" stroke="#d62728" stroke-width="1.25"/>
<polygon points="606.37,206.44 609.05,208.38 608.03,211.53 604.71,211.53 603.69,208.38" fill="none" stroke="#d62728" stroke-width="1.25"/>
<polygon points="618.88,206.44 621.56,208.38 620.54,211.53 617.23,211.53 616.21,208.38" fill="none" stroke="#d62728" stroke-width="1.25"/>
<polygon points="631.40,206.44 634.08,208.38 633.06,211.53 629.74,211.53 628.72,208.38" fill="none" stroke="#d62728" stroke-width="1.25"/>
<polyline points="381.10,208.35 393.62,208.97 406.13,208.97 418.65,208.97 431.16,206.70 443.68,205.47 456.19,208.35 468.70,208.97 481.22,208.97 493.74,208.97 506.25,208.97 518.76,208.35 531.28,207.94 543.79,206.08 556.31,201.76 568.83,200.11 581.34,193.92 593.86,193.10 606.37,188.36 618.88,190.42 631.40,189.39" fill="none" stroke="#9467bd" stroke-width="1.1" stroke-linejoin="round"/>
<polygon points="378.22,208.35 383.98,205.03 383.98,211.68" fill="none" stroke="#9467bd" stroke-width="1.25"/>
<polygon points="390.74,208.97 396.50,205.64 396.50,212.30" fill="none" stroke="#9467bd" stroke-width="1.25"/>
<polygon points="403.25,208.97 409.01,205.64 409.01,212.30" fill="none" stroke="#9467bd" stroke-width="1.25"/>
<polygon points="415.77,208.97 421.53,205.64 421.53,212.30" fill="none" stroke="#9467bd" stroke-width="1.25"/>
<polygon points="428.28,206.70 434.04,203.38 434.04,210.03" fill="none" stroke="#9467bd" stroke-width="1.25"/>
<polygon points="440.80,205.47 446.56,202.14 446.56,208.79" fill="none" stroke="#9467bd" stroke-width="1.25"/>
<polygon points="453.31,208.35 459.07,205.03 459.07,211.68" fill="none" stroke="#9467bd" stroke-width="1.25"/>
<polygon points="465.82,208.97 471.58,205.64 471.58,212.30" fill="none" stroke="#9467bd" stroke-width="1.25"/>
<polygon points="478.34,208.97 484.10,205.64 484.10,212.30" fill="none" stroke="#9467bd" stroke-width="1.25"/>
<polygon points="490.86,208.97 496.62,205.64 496.62,212.30" fill="none" stroke="#9467bd" stroke-width="1.25"/>
<polygon points="503.37,208.97 509.13,205.64 509.13,212.30" fill="none" stroke="#9467bd" stroke-width="1.25"/>
<polygon points="515.88,208.35 521.64,205.03 521.64,211.68" fill="none" stroke="#9467bd" stroke-width="1.25"/>
<polygon points="528.40,207.94 534.16,204.61 534.16,211.26" fill="none" stroke="#9467bd" stroke-width="1.25"/>
<polygon points="540.91,206.08 546.67,202.76 546.67,209.41" fill="none" stroke="#9467bd" stroke-width="1.25"/>
<polygon points="553.43,201.76 559.19,198.43 559.19,205.08" fill="none" stroke="#9467bd" stroke-width="1.25"/>
<polygon points="565.95,200.11 571.71,196.78 571.71,203.43" fill="none" stroke="#9467bd" stroke-width="1.25"/>
<polygon points="578.46,193.92 584.22,190.60 584.22,197.25" fill="none" stroke="#9467bd" stroke-width="1.25"/>
<polygon points="590.98,193.10 596.74,189.77 596.74,196.43" fill="none" stroke="#9467bd" stroke-width="1.25"/>
<polygon points="603.49,188.36 609.25,185.03 609.25,191.69" fill="none" stroke="#9467bd" stroke-width="1.25"/>
<polygon points="616.00,190.42 621.76,187.09 621.76,193.75" fill="none" stroke="#9467bd" stroke-width="1.25"/>
<polygon points="628.52,189.39 634.28,186.06 634.28,192.72" fill="none" stroke="#9467bd" stroke-width="1.25"/>
<polyline points="381.10,188.36 393.62,190.21 406.13,192.69 418.65,198.05 431.16,198.87 443.68,195.37 456.19,197.84 468.70,206.29 481.22,208.35 493.74,208.97 506.25,208.97 518.76,209.18 531.28,209.18 543.79,209.18 556.31,209.18 568.83,209.18 581.34,209.18 593.86,209.18 606.37,209.18 618.88,209.18 631.40,209.18" fill="none" stroke="#8c564b" stroke-width="1.1" stroke-linejoin="round"/>
<polygon points="383.98,188.36 378.22,191.69 378.22,185.03" fill="none" stroke="#8c564b" stroke-width="1.25"/>
<polygon points="396.50,190.21 390.74,193.54 390.74,186.89" fill="none" stroke="#8c564b" stroke-width="1.25"/>
<polygon points="409.01,192.69 403.25,196.01 403.25,189.36" fill="none" stroke="#8c564b" stroke-width="1.25"/>
<polygon points="421.53,198.05 415.77,201.37 415.77,194.72" fill="none" stroke="#8c564b" stroke-width="1.25"/>
<polygon points="434.04,198.87 428.28,202.20 428.28,195.55" fill="none" stroke="#8c564b" stroke-width="1.25"/>
<polygon points="446.56,195.37 440.80,198.69 440.80,192.04" fill="none" stroke="#8c564b" stroke-width="1.25"/>
<polygon points="459.07,197.84 453.31,201.17 453.31,194.51" fill="none" stroke="#8c564b" stroke-width="1.25"/>
<polygon points="471.58,206.29 465.82,209.62 465.82,202.96" fill="none" stroke="#8c564b" stroke-width="1.25"/>
<polygon points="484.10,208.35 478.34,211.68 478.34,205.03" fill="none" stroke="#8c564b" stroke-width="1.25"/>
<polygon points="496.62,208.97 490.86,212.30 490.86,205.64" fill="none" stroke="#8c564b" stroke-width="1.25"/>
<polygon points="509.13,208.97 503.37,212.30 503.37,205.64" fill="none" stroke="#8c564b" stroke-width="1.25"/>
<polygon points="521.64,209.18 515.88,212.50 515.88,205.85" fill="none" stroke="#8c564b" stroke-width="1.25"/>
<polygon points="534.16,209.18 528.40,212.50 528.40,205.85" fill="none" stroke="#8c564b" stroke-width="1.25"/>
<polygon points="546.67,209.18 540.91,212.50 540.91,205.85" fill="none" stroke="#8c564b" stroke-width="1.25"/>
<polygon points="559.19,209.18 553.43,212.50 553.43,205.85" fill="none" stroke="#8c564b" stroke-width="1.25"/>
<polygon points="571.71,209.18 565.95,212.50 565.95,205.85" fill="none" stroke="#8c564b" stroke-width="1.25"/>
<polygon points="584.22,209.18 578.46,212.50 578.46,205.85" fill="none" stroke="#8c564b" stroke-width="1.25"/>
<polygon points="596.74,209.18 590.98,212.50 590.98,205.85" fill="none" stroke="#8c564b" stroke-width="1.25"/>
<polygon points="609.25,209.18 603.49,212.50 603.49,205.85" fill="none" stroke="#8c564b" stroke-width="1.25"/>
<polygon points="621.76,209.18 616.00,212.50 616.00,205.85" fill="none" stroke="#8c564b" stroke-width="1.25"/>
<polygon points="634.28,209.18 628.52,212.50 628.52,205.85" fill="none" stroke="#8c564b" stroke-width="1.25"/>
</g>
<rect x="381.10" y="3.90" width="250.30" height="206.10" fill="none" stroke="#383838" stroke-width="1.3"/>
<line x1="381.10" y1="210.00" x2="381.10" y2="207.20" stroke="#383838" stroke-width="1.1"/>
<line x1="381.10" y1="3.90" x2="381.10" y2="6.70" stroke="#383838" stroke-width="1.1"/>
<text x="380.70" y="0" class="tk" text-anchor="middle" transform="translate(0 219.40) scale(1 1.07)">−20</text>
<line x1="412.39" y1="210.00" x2="412.39" y2="207.20" stroke="#383838" stroke-width="1.1"/>
<line x1="412.39" y1="3.90" x2="412.39" y2="6.70" stroke="#383838" stroke-width="1.1"/>
<text x="411.99" y="0" class="tk" text-anchor="middle" transform="translate(0 219.40) scale(1 1.07)">−15</text>
<line x1="443.68" y1="210.00" x2="443.68" y2="207.20" stroke="#383838" stroke-width="1.1"/>
<line x1="443.68" y1="3.90" x2="443.68" y2="6.70" stroke="#383838" stroke-width="1.1"/>
<text x="443.28" y="0" class="tk" text-anchor="middle" transform="translate(0 219.40) scale(1 1.07)">−10</text>
<line x1="474.96" y1="210.00" x2="474.96" y2="207.20" stroke="#383838" stroke-width="1.1"/>
<line x1="474.96" y1="3.90" x2="474.96" y2="6.70" stroke="#383838" stroke-width="1.1"/>
<text x="474.56" y="0" class="tk" text-anchor="middle" transform="translate(0 219.40) scale(1 1.07)">−5</text>
<line x1="506.25" y1="210.00" x2="506.25" y2="207.20" stroke="#383838" stroke-width="1.1"/>
<line x1="506.25" y1="3.90" x2="506.25" y2="6.70" stroke="#383838" stroke-width="1.1"/>
<text x="505.85" y="0" class="tk" text-anchor="middle" transform="translate(0 219.40) scale(1 1.07)">0</text>
<line x1="537.54" y1="210.00" x2="537.54" y2="207.20" stroke="#383838" stroke-width="1.1"/>
<line x1="537.54" y1="3.90" x2="537.54" y2="6.70" stroke="#383838" stroke-width="1.1"/>
<text x="537.14" y="0" class="tk" text-anchor="middle" transform="translate(0 219.40) scale(1 1.07)">5</text>
<line x1="568.83" y1="210.00" x2="568.83" y2="207.20" stroke="#383838" stroke-width="1.1"/>
<line x1="568.83" y1="3.90" x2="568.83" y2="6.70" stroke="#383838" stroke-width="1.1"/>
<text x="568.43" y="0" class="tk" text-anchor="middle" transform="translate(0 219.40) scale(1 1.07)">10</text>
<line x1="600.11" y1="210.00" x2="600.11" y2="207.20" stroke="#383838" stroke-width="1.1"/>
<line x1="600.11" y1="3.90" x2="600.11" y2="6.70" stroke="#383838" stroke-width="1.1"/>
<text x="599.71" y="0" class="tk" text-anchor="middle" transform="translate(0 219.40) scale(1 1.07)">15</text>
<line x1="631.40" y1="210.00" x2="631.40" y2="207.20" stroke="#383838" stroke-width="1.1"/>
<line x1="631.40" y1="3.90" x2="631.40" y2="6.70" stroke="#383838" stroke-width="1.1"/>
<text x="631.00" y="0" class="tk" text-anchor="middle" transform="translate(0 219.40) scale(1 1.07)">20</text>
<line x1="381.10" y1="210.00" x2="383.90" y2="210.00" stroke="#383838" stroke-width="1.1"/>
<line x1="631.40" y1="210.00" x2="628.60" y2="210.00" stroke="#383838" stroke-width="1.1"/>
<text x="378.10" y="0" class="tk" text-anchor="end" transform="translate(0 213.60) scale(1 1.07)">0</text>
<line x1="381.10" y1="189.39" x2="383.90" y2="189.39" stroke="#383838" stroke-width="1.1"/>
<line x1="631.40" y1="189.39" x2="628.60" y2="189.39" stroke="#383838" stroke-width="1.1"/>
<text x="378.10" y="0" class="tk" text-anchor="end" transform="translate(0 192.99) scale(1 1.07)">1</text>
<line x1="381.10" y1="168.78" x2="383.90" y2="168.78" stroke="#383838" stroke-width="1.1"/>
<line x1="631.40" y1="168.78" x2="628.60" y2="168.78" stroke="#383838" stroke-width="1.1"/>
<text x="378.10" y="0" class="tk" text-anchor="end" transform="translate(0 172.38) scale(1 1.07)">2</text>
<line x1="381.10" y1="148.17" x2="383.90" y2="148.17" stroke="#383838" stroke-width="1.1"/>
<line x1="631.40" y1="148.17" x2="628.60" y2="148.17" stroke="#383838" stroke-width="1.1"/>
<text x="378.10" y="0" class="tk" text-anchor="end" transform="translate(0 151.77) scale(1 1.07)">3</text>
<line x1="381.10" y1="127.56" x2="383.90" y2="127.56" stroke="#383838" stroke-width="1.1"/>
<line x1="631.40" y1="127.56" x2="628.60" y2="127.56" stroke="#383838" stroke-width="1.1"/>
<text x="378.10" y="0" class="tk" text-anchor="end" transform="translate(0 131.16) scale(1 1.07)">4</text>
<line x1="381.10" y1="106.95" x2="383.90" y2="106.95" stroke="#383838" stroke-width="1.1"/>
<line x1="631.40" y1="106.95" x2="628.60" y2="106.95" stroke="#383838" stroke-width="1.1"/>
<text x="378.10" y="0" class="tk" text-anchor="end" transform="translate(0 110.55) scale(1 1.07)">5</text>
<line x1="381.10" y1="86.34" x2="383.90" y2="86.34" stroke="#383838" stroke-width="1.1"/>
<line x1="631.40" y1="86.34" x2="628.60" y2="86.34" stroke="#383838" stroke-width="1.1"/>
<text x="378.10" y="0" class="tk" text-anchor="end" transform="translate(0 89.94) scale(1 1.07)">6</text>
<line x1="381.10" y1="65.73" x2="383.90" y2="65.73" stroke="#383838" stroke-width="1.1"/>
<line x1="631.40" y1="65.73" x2="628.60" y2="65.73" stroke="#383838" stroke-width="1.1"/>
<text x="378.10" y="0" class="tk" text-anchor="end" transform="translate(0 69.33) scale(1 1.07)">7</text>
<line x1="381.10" y1="45.12" x2="383.90" y2="45.12" stroke="#383838" stroke-width="1.1"/>
<line x1="631.40" y1="45.12" x2="628.60" y2="45.12" stroke="#383838" stroke-width="1.1"/>
<text x="378.10" y="0" class="tk" text-anchor="end" transform="translate(0 48.72) scale(1 1.07)">8</text>
<line x1="381.10" y1="24.51" x2="383.90" y2="24.51" stroke="#383838" stroke-width="1.1"/>
<line x1="631.40" y1="24.51" x2="628.60" y2="24.51" stroke="#383838" stroke-width="1.1"/>
<text x="378.10" y="0" class="tk" text-anchor="end" transform="translate(0 28.11) scale(1 1.07)">9</text>
<line x1="381.10" y1="3.90" x2="383.90" y2="3.90" stroke="#383838" stroke-width="1.1"/>
<line x1="631.40" y1="3.90" x2="628.60" y2="3.90" stroke="#383838" stroke-width="1.1"/>
<text x="378.10" y="0" class="tk" text-anchor="end" transform="translate(0 7.50) scale(1 1.07)">10</text>
<text x="363.80" y="107.85" class="ylab" text-anchor="middle" transform="rotate(-90 363.80 107.85)">Pf (%)</text>
<text x="506.25" y="230.90" class="lab" text-anchor="middle">SNR (dB)</text>
<rect x="385.40" y="8.30" width="117.60" height="77.00" rx="1.5" fill="#fff" stroke="#383838" stroke-width="1.1"/>
<line x1="388.70" y1="15.30" x2="407.20" y2="15.30" stroke="#1f77b4" stroke-width="1.4" opacity="0.72"/>
<circle cx="397.70" cy="15.30" r="2.75" fill="none" stroke="#1f77b4" stroke-width="1.25"/>
<text x="407.10" y="0" class="lg" style="font-size:8.95px" transform="translate(0 18.60) scale(1 1.09)">DSFF_MT_PG</text>
<line x1="388.70" y1="27.95" x2="407.20" y2="27.95" stroke="#ff7f0e" stroke-width="1.4" opacity="0.72"/>
<rect x="394.82" y="25.07" width="5.76" height="5.76" fill="none" stroke="#ff7f0e" stroke-width="1.25"/>
<text x="407.10" y="0" class="lg" style="font-size:8.95px" transform="translate(0 31.25) scale(1 1.09)">DSFF_MT_PG_both</text>
<line x1="388.70" y1="40.60" x2="407.20" y2="40.60" stroke="#2ca02c" stroke-width="1.4" opacity="0.72"/>
<polygon points="397.70,37.72 401.03,43.48 394.37,43.48" fill="none" stroke="#2ca02c" stroke-width="1.25"/>
<text x="407.10" y="0" class="lg" style="font-size:8.95px" transform="translate(0 43.90) scale(1 1.09)">MTM_DeepSense</text>
<line x1="388.70" y1="53.25" x2="407.20" y2="53.25" stroke="#d62728" stroke-width="1.4" opacity="0.72"/>
<polygon points="397.70,50.72 400.38,52.66 399.36,55.81 396.04,55.81 395.02,52.66" fill="none" stroke="#d62728" stroke-width="1.25"/>
<text x="407.10" y="0" class="lg" style="font-size:8.95px" transform="translate(0 56.55) scale(1 1.09)">MTM_DeepSense_both</text>
<line x1="388.70" y1="65.90" x2="407.20" y2="65.90" stroke="#9467bd" stroke-width="1.4" opacity="0.72"/>
<polygon points="394.82,65.90 400.58,62.57 400.58,69.23" fill="none" stroke="#9467bd" stroke-width="1.25"/>
<text x="407.10" y="0" class="lg" style="font-size:8.95px" transform="translate(0 69.20) scale(1 1.09)">MTM_ParallelCNN</text>
<line x1="388.70" y1="78.55" x2="407.20" y2="78.55" stroke="#8c564b" stroke-width="1.4" opacity="0.72"/>
<polygon points="400.58,78.55 394.82,81.88 394.82,75.22" fill="none" stroke="#8c564b" stroke-width="1.25"/>
<text x="407.10" y="0" class="lg" style="font-size:8.95px" transform="translate(0 81.85) scale(1 1.09)">MTM_ParallelCNN_both</text>
<text x="160.9" y="269.6" class="cap" text-anchor="middle">(a)</text>
<text x="483.3" y="269.6" class="cap" text-anchor="middle">(b)</text>
<text x="1" y="317" class="fig">Fig.</text><text x="43.5" y="317" class="fig">11.</text>
<text x="83" y="317" class="fig" word-spacing="6.75">Spectrum sensing performance with <tspan dx="-4">the</tspan> <tspan dx="-2">simultaneous</tspan> <tspan dx="-3">use</tspan> of <tspan dx="-2">both</tspan></text>
</svg>
</body></html>
